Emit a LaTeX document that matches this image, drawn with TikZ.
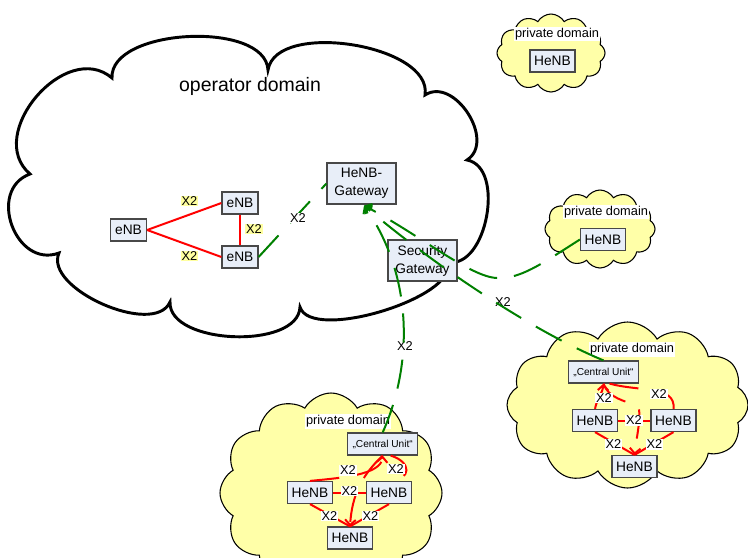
\documentclass[tikz,border=0pt]{standalone}
\usepackage{fontspec}
\setmainfont{Liberation Sans}
\usetikzlibrary{arrows.meta,shapes.symbols,calc}

\definecolor{boxfill}{RGB}{232,238,248}
\definecolor{boxline}{RGB}{72,72,72}
\definecolor{cloudfill}{RGB}{255,255,168}
\definecolor{hilite}{RGB}{255,255,160}
\definecolor{linkgreen}{RGB}{0,128,0}
\definecolor{linkred}{RGB}{255,0,0}

\begin{document}
\begin{tikzpicture}[x=0.75pt, y=-0.75pt,
  netbox/.style={draw=boxline, fill=boxfill, line width=0.9pt, inner sep=0pt, align=center, font=\fontsize{10.3}{13.5}\selectfont},
  enb/.style={netbox, minimum width=27pt, minimum height=16.5pt},
  henb/.style={netbox, minimum width=33.75pt, minimum height=16.5pt},
  gwbox/.style={netbox, minimum width=51.75pt, minimum height=30.75pt},
  cubox/.style={netbox, minimum width=52.5pt, minimum height=16.5pt, font=\fontsize{7.6}{9}\selectfont},
  pcloud/.style={cloud, cloud puffs=12, cloud puff arc=120, cloud ignores aspect, draw=black, line width=0.8pt, fill=cloudfill, inner sep=0pt},
  domlabel/.style={fill=white, inner sep=0.8pt, font=\fontsize{9.6}{11}\selectfont},
  xtwo/.style={inner sep=0.6pt, font=\fontsize{9.6}{11}\selectfont},
  xhl/.style={xtwo, fill=hilite},
  xwhite/.style={xtwo, fill=white},
  redlink/.style={draw=linkred, line width=1.5pt},
  reddash/.style={redlink, dash pattern=on 22pt off 12.75pt},
  greenlink/.style={draw=linkgreen, line width=1.5pt, dash pattern=on 22pt off 12.75pt},
  openhead/.style={-{Straight Barb[length=4pt,width=8pt]}},
]
\useasboundingbox (0,0) rectangle (748,557);
\fill[white] (0,0) rectangle (748,557);
\clip (0,0) rectangle (748,557);

% operator domain cloud
\coordinate (k1) at (30,174);
\coordinate (k2) at (112,78);
\coordinate (k3) at (268,70);
\coordinate (k4) at (425,95);
\coordinate (k5) at (467,160);
\coordinate (k6) at (448,262);
\coordinate (k7) at (300,307);
\coordinate (k8) at (170,302);
\coordinate (k9) at (59,253);
\draw[line width=2.2pt, fill=white]
 (k1) .. controls ($(k1)!0.48!90:(k2)$) and ($(k2)!0.48!-90:(k1)$) .. (k2)
 .. controls ($(k2)!0.32!90:(k3)$) and ($(k3)!0.32!-90:(k2)$) .. (k3)
 .. controls ($(k3)!0.32!90:(k4)$) and ($(k4)!0.32!-90:(k3)$) .. (k4)
 .. controls ($(k4)!0.45!90:(k5)$) and ($(k5)!0.45!-90:(k4)$) .. (k5)
 .. controls ($(k5)!0.38!90:(k6)$) and ($(k6)!0.38!-90:(k5)$) .. (k6)
 .. controls ($(k6)!0.24!90:(k7)$) and ($(k7)!0.24!-90:(k6)$) .. (k7)
 .. controls ($(k7)!0.33!90:(k8)$) and ($(k8)!0.33!-90:(k7)$) .. (k8)
 .. controls ($(k8)!0.32!90:(k9)$) and ($(k9)!0.32!-90:(k8)$) .. (k9)
 .. controls ($(k9)!0.55!90:(k1)$) and ($(k1)!0.55!-90:(k9)$) .. (k1)
 -- cycle;
\node[font=\fontsize{14.6}{17}\selectfont] (opname) at (250,86) {operator domain};

% private domain clouds
\node[pcloud, minimum width=81pt, minimum height=58.5pt] (pc1) at (551,53) {};
\node[pcloud, minimum width=82.5pt, minimum height=58.5pt] (pc2) at (600,229) {};
\node[pcloud, minimum width=180.75pt, minimum height=124.5pt] (pc3) at (627.5,405) {};
\node[pcloud, minimum width=166.5pt, minimum height=150pt] (pc4) at (331,493) {};

% network elements
\node[enb] (enbA) at (128.5,230) {eNB};
\node[enb] (enbB) at (240,203) {eNB};
\node[enb] (enbC) at (240,257) {eNB};
\node[gwbox] (gw) at (361.5,183.5) {HeNB-\\Gateway};
\node[gwbox] (sgw) at (422.5,260.5) {Security\\Gateway};

\node[domlabel] (pdlab1) at (557,34) {private domain};
\node[henb] (hn1) at (552.5,61) {HeNB};
\node[domlabel] (pdlab2) at (606,212) {private domain};
\node[henb] (hn2) at (603,239.5) {HeNB};

\node[domlabel] (pdlab3) at (632,349.5) {private domain};
\node[cubox] (cuR) at (603.5,372) {„Central Unit“};
\node[henb] (hlR) at (595,420.5) {HeNB};
\node[henb] (hrR) at (673.5,420.5) {HeNB};
\node[henb] (hbR) at (634.5,466.5) {HeNB};

\node[domlabel] (pdlab4) at (348,421.5) {private domain};
\node[cubox] (cuB) at (382.7,444) {„Central Unit“};
\node[henb] (hlB) at (310,492.5) {HeNB};
\node[henb] (hrB) at (389,492.5) {HeNB};
\node[henb] (hbB) at (350,538) {HeNB};

% X2 links between the eNBs
\draw[redlink] (enbA.east) -- (enbB.west);
\draw[redlink] (enbA.east) -- (enbC.west);
\draw[redlink] (enbB.south) -- (enbC.north);
\node[xhl] (x2a) at (189.5,201) {X2};
\node[xhl] (x2b) at (189.5,256) {X2};
\node[xhl] (x2c) at (254,229) {X2};

% links towards the HeNB gateway
\coordinate (gwin) at ($(gw.south)+(2.5,1)$);
\draw[greenlink] (enbC.east) -- (gw.west);
\node[xwhite] (x2g1) at (298,218) {X2};
\node[xtwo] (x2g2) at (405,346) {X2};
\node[xtwo] (x2g3) at (503,302) {X2};
\draw[greenlink, openhead] (cuB.north) .. controls (415,360) and (411,272) .. (gwin);
\draw[greenlink, openhead] (cuR.north) .. controls (530,330) and (430,262) .. (gwin);
\draw[greenlink, openhead] (hn2.west) .. controls (540,265) and (520,279) .. (497,278)
  .. controls (470,277) and (420,235) .. (gwin);

% lower private domain
\draw[redlink] (hlB.east) -- (hrB.west);
\draw[redlink] (hlB.south) -- (hbB.north);
\draw[redlink] (hrB.south) -- (hbB.north);
\draw[reddash, openhead] (hlB.north) .. controls (340,478) and (381,475) .. (cuB.south);
\draw[reddash] ($(cuB.south)+(8,0)$) .. controls (412,462) and (412,480) .. (hrB.north);
\draw[reddash, openhead] (cuB.south) .. controls (362,475) and (352,495) .. (hbB.north);
\node[xwhite] (x2b1) at (348,470.5) {X2};
\node[xwhite] (x2b2) at (396,469) {X2};
\node[xwhite] (x2b3) at (349.5,491) {X2};
\node[xwhite] (x2b4) at (329.5,516) {X2};
\node[xwhite] (x2b5) at (370.5,516) {X2};

% right private domain
\draw[redlink] (hlR.east) -- (hrR.west);
\draw[redlink] (hlR.south) -- (hbR.north);
\draw[redlink] (hrR.south) -- (hbR.north);
\draw[reddash, openhead] (hlR.north) .. controls (597,398) and (603,392) .. (cuR.south);
\draw[reddash] ($(cuR.south)+(6,0)$) .. controls (640,392) and (676,385) .. (hrR.north);
\draw[reddash, openhead] (cuR.south) .. controls (608,398) and (625,401) .. (638,406)
  .. controls (642,415) and (636,440) .. (hbR.north);
\node[xwhite] (x2r1) at (604,398) {X2};
\node[xwhite] (x2r2) at (659,394) {X2};
\node[xwhite] (x2r3) at (634,420.5) {X2};
\node[xwhite] (x2r4) at (613.5,444.5) {X2};
\node[xwhite] (x2r5) at (654.5,444.5) {X2};
\end{tikzpicture}
\end{document}
